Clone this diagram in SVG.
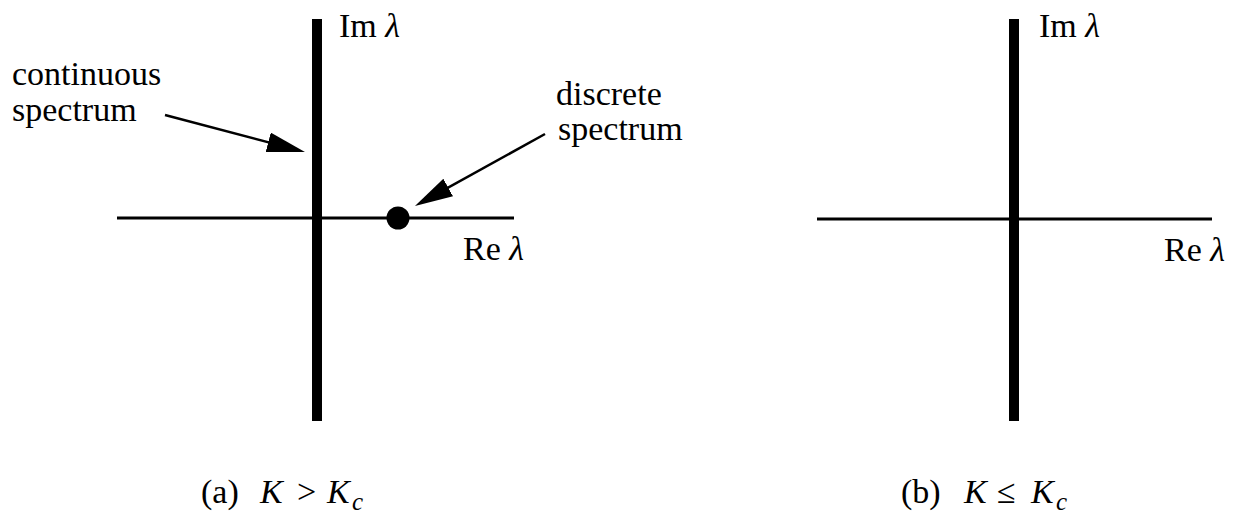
<svg xmlns="http://www.w3.org/2000/svg" width="1237" height="518" viewBox="0 0 1237 518">
<style>
.t{font-family:"Liberation Serif","Times New Roman",serif;font-size:34px;fill:#000}
.i{font-style:italic}
.sub{font-family:"Liberation Serif","Times New Roman",serif;font-size:25px;font-style:italic;fill:#000}
.bar{fill:#000}
.ax{stroke:#000;stroke-width:3;fill:none}
.ar{stroke:#000;stroke-width:2.5;fill:none;marker-end:url(#head)}
</style>
<defs>
<marker id="head" markerUnits="userSpaceOnUse" markerWidth="40" markerHeight="22" refX="28" refY="10" orient="auto">
<path d="M0,0 L38,10 L0,20 z" fill="#000"/>
</marker>
</defs>
<rect width="1237" height="518" fill="#fff"/>
<g id="panel-a">
<g id="axes-a">
<line class="ax" x1="117" y1="218" x2="514" y2="218"/>
<rect class="bar" x="312" y="19" width="10" height="402"/>
</g>
<g id="im-a"><text class="t" x="339" y="37">Im <tspan class="i">λ</tspan></text></g>
<g id="re-a"><text class="t" x="463" y="260">Re <tspan class="i">λ</tspan></text></g>
<g id="continuous-label"><text class="t" x="12" y="85">continuous</text><text class="t" x="12" y="121">spectrum</text></g>
<g id="discrete-label"><text class="t" x="556" y="105">discrete</text><text class="t" x="558" y="140">spectrum</text></g>
<g id="discrete-point"><circle cx="398" cy="218" r="11.5" fill="#000"/></g>
<g id="caption-a"><text class="t" x="201" y="503">(a)</text><text class="t i" x="260" y="503">K</text><text class="t" x="297" y="503">&gt;</text><text class="t i" x="327" y="503">K</text><text class="sub" x="352" y="510">c</text></g>
</g>
<g id="panel-b">
<g id="axes-b">
<line class="ax" x1="817" y1="219" x2="1212" y2="219"/>
<rect class="bar" x="1009" y="19" width="10" height="402"/>
</g>
<g id="im-b"><text class="t" x="1039" y="37">Im <tspan class="i">λ</tspan></text></g>
<g id="re-b"><text class="t" x="1164" y="261">Re <tspan class="i">λ</tspan></text></g>
<g id="caption-b"><text class="t" x="901" y="503">(b)</text><text class="t i" x="964" y="503">K</text><text class="t" x="997" y="503">≤</text><text class="t i" x="1031" y="503">K</text><text class="sub" x="1056" y="510">c</text></g>
</g>
<g id="connectors">
<line class="ar" x1="165" y1="115" x2="295.3" y2="149.4"/>
<line class="ar" x1="545" y1="134" x2="423.7" y2="201.1"/>
</g>
</svg>
